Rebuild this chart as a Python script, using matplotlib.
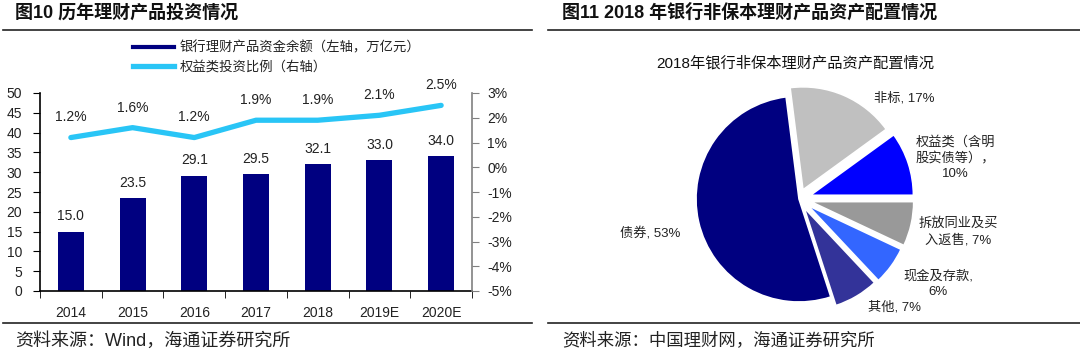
import matplotlib
matplotlib.use("Agg")
import matplotlib.pyplot as plt
from matplotlib.lines import Line2D
from matplotlib.ticker import FuncFormatter, FixedLocator

plt.rcParams['font.family'] = ['Liberation Sans', 'Noto Sans CJK SC', 'DejaVu Sans']

W, H = 1080, 354

# ---- data: left chart ----
years = ['2014', '2015', '2016', '2017', '2018', '2019E', '2020E']
balance = [15.0, 23.5, 29.1, 29.5, 32.1, 33.0, 34.0]      # 万亿元
equity_ratio = [1.2, 1.6, 1.2, 1.9, 1.9, 2.1, 2.5]       # %
bar_name = '银行理财产品资金余额（左轴，万亿元）'
line_name = '权益类投资比例（右轴）'

# ---- data: right chart ----
pie_values = [10, 17, 53, 7, 6, 7]
pie_labels = ['权益类（含明\n股实债等），\n10%', '非标, 17%', '债券, 53%',
              '其他, 7%', '现金及存款,\n6%', '拆放同业及买\n入返售, 7%']
pie_colors = ['#0000FF', '#C0C0C0', '#000080', '#333399', '#3366FF', '#999999']


def fx(x):
    return x / W


def fy(y):
    return 1 - y / H


fig = plt.figure(figsize=(W / 100, H / 100), dpi=100)

# headers / footers
fig.text(fx(15), fy(13), '图10 历年理财产品投资情况', fontsize=13, fontweight='bold',
         va='center', ha='left', color='#111111')
fig.text(fx(562), fy(13), '图11 2018 年银行非保本理财产品资产配置情况', fontsize=13,
         fontweight='bold', va='center', ha='left', color='#111111')
fig.text(fx(15), fy(341), '资料来源：Wind，海通证券研究所', fontsize=13,
         va='center', ha='left', color='#222222')
fig.text(fx(562), fy(340), '资料来源：中国理财网，海通证券研究所', fontsize=12.5,
         va='center', ha='left', color='#222222')
for x0, x1 in [(3, 532), (548, 1080)]:
    for yy in (30, 323):
        fig.add_artist(Line2D([fx(x0), fx(x1)], [fy(yy), fy(yy)],
                              transform=fig.transFigure, color='#222222', lw=1.2))

# ---- left: bars + line ----
ax = fig.add_axes([fx(40), fy(291), fx(472) - fx(40), fy(93) - fy(291)])
xs = list(range(len(years)))
ax.bar(xs, balance, width=0.42, color='#000080', label=bar_name, zorder=2)
ax.set_xlim(-0.5, len(years) - 0.5)
ax.set_ylim(0, 50)
ax.set_yticks(range(0, 51, 5))
ax.set_xticks(xs)
ax.set_xticklabels(years)
ax.xaxis.set_minor_locator(FixedLocator([i - 0.5 for i in range(len(years) + 1)]))
ax.tick_params(axis='x', which='major', length=0, pad=11, labelsize=10, colors='#222222')
ax.tick_params(axis='x', which='minor', length=5, direction='out', color='black')
ax.tick_params(axis='y', length=5, direction='out', pad=8, labelsize=10, labelcolor='#222222')
for s in ('top', 'right'):
    ax.spines[s].set_visible(False)
for s in ('left', 'bottom'):
    ax.spines[s].set_color('black')
    ax.spines[s].set_linewidth(1.2)
for x, v in zip(xs, balance):
    ax.annotate(f'{v:.1f}', (x, v), xytext=(0, 11), textcoords='offset points',
                ha='center', va='center', fontsize=10, color='#222222')

ax2 = ax.twinx()
ax2.set_position(ax.get_position())
ax2.plot(xs, equity_ratio, color='#29C5F6', lw=3.8, label=line_name,
         solid_joinstyle='round', solid_capstyle='round')
ax2.set_ylim(-5, 3)
ax2.set_yticks(range(-5, 4))
ax2.yaxis.set_major_formatter(FuncFormatter(lambda v, p: f'{int(v)}%'))
ax2.tick_params(axis='y', length=5, direction='out', pad=6, labelsize=10,
                labelcolor='#222222', color='#808080')
for s in ('top', 'left', 'bottom'):
    ax2.spines[s].set_visible(False)
ax2.spines['right'].set_color('#808080')
ax2.spines['right'].set_linewidth(1.2)
for x, v in zip(xs, equity_ratio):
    ax2.annotate(f'{v:.1f}%', (x, v), xytext=(0, 14.5), textcoords='offset points',
                 ha='center', va='center', fontsize=10, color='#222222')

handles = [Line2D([], [], color='#000080', lw=3), Line2D([], [], color='#29C5F6', lw=3.8)]
fig.legend(handles, [bar_name, line_name], loc='upper left',
           bbox_to_anchor=(fx(133), fy(41)), frameon=False, fontsize=9.6,
           handlelength=3.1, handletextpad=0.4, labelspacing=0.45,
           borderpad=0, borderaxespad=0, labelcolor='#222222')

# ---- right: pie ----
cx, cy = 799, 199
pax = fig.add_axes([fx(560), fy(322), fx(1075) - fx(560), fy(80) - fy(322)])
explode = [0.12, 0.1, 0.0, 0.1, 0.11, 0.12]
pax.pie(pie_values, colors=pie_colors, startangle=0, counterclock=True,
        explode=explode, radius=1.03,
        wedgeprops=dict(edgecolor='white', linewidth=1.2))
pax.set_xlim(-(cx - 560) / 100, (1075 - cx) / 100)
pax.set_ylim(-(322 - cy) / 100, (cy - 80) / 100)
pax.set_aspect('auto')
pax.axis('off')
label_pos = [(955, 158), (904, 98), (650, 233), (895, 307), (938, 284), (958, 232)]
for lab, (lx, ly) in zip(pie_labels, label_pos):
    pax.text((lx - cx) / 100, (cy - ly) / 100, lab, ha='center', va='center',
             fontsize=9.5, color='#222222', linespacing=1.35)
fig.text(fx(795), fy(63), '2018年银行非保本理财产品资产配置情况', fontsize=11,
         ha='center', va='center', color='#111111')

fig.savefig('out.png', dpi=100)
